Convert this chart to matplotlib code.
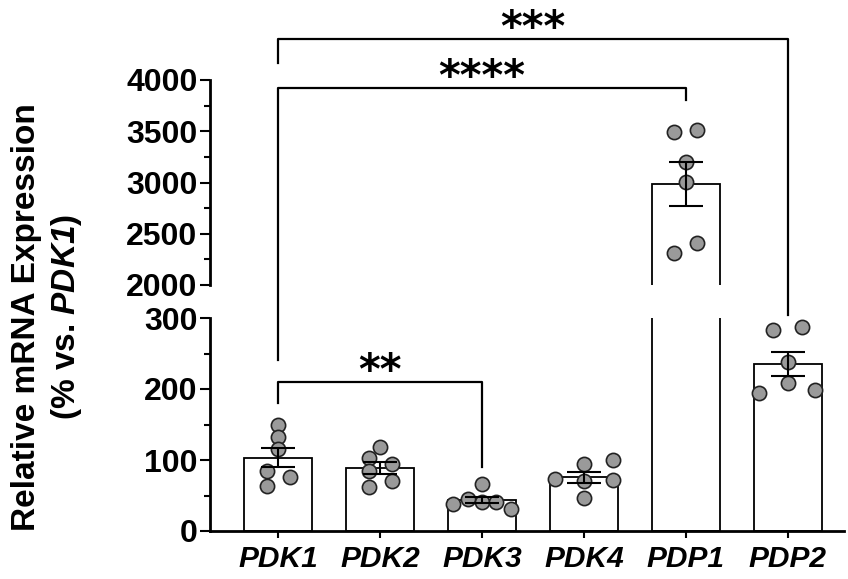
import numpy as np
import matplotlib
matplotlib.use("Agg")
import matplotlib.pyplot as plt

plt.rcParams['font.family'] = 'Liberation Sans'
plt.rcParams['font.weight'] = 'bold'
plt.rcParams['mathtext.fontset'] = 'custom'
plt.rcParams['mathtext.rm'] = 'Liberation Sans:italic:bold'
plt.rcParams['mathtext.it'] = 'Liberation Sans:italic:bold'

# genes and individual replicate values (% vs PDK1)
genes = ['PDK1', 'PDK2', 'PDK3', 'PDK4', 'PDP1', 'PDP2']
pdk1 = [149, 132, 115, 85, 76, 63]
pdk2 = [118, 103, 94, 85, 70, 62]
pdk3 = [66, 45, 41, 41, 38, 31]
pdk4 = [94, 100, 73, 70, 72, 46]
pdp1 = [3493, 3512, 3200, 3005, 2410, 2312]
pdp2 = [283, 287, 238, 208, 194, 199]
groups = [pdk1, pdk2, pdk3, pdk4, pdp1, pdp2]

# horizontal spread of the dots inside each bar
jitter = [
    [0, 0, 0, -0.11, 0.12, -0.11],
    [0, -0.11, 0.12, -0.11, 0.12, -0.11],
    [0, -0.14, 0, 0.14, -0.28, 0.28],
    [0, 0.28, -0.28, 0, 0.28, 0],
    [-0.12, 0.11, 0, 0, 0.11, -0.12],
    [-0.15, 0.14, 0, 0, -0.28, 0.27],
]

x = np.arange(len(genes))
means = np.array([np.mean(g) for g in groups])
sems = np.array([np.std(g, ddof=1) / np.sqrt(len(g)) for g in groups])

fig = plt.figure(figsize=(8.48, 5.79), dpi=100)
W, H = 848, 579
left, right = 210 / W, 844 / W
ax_top = fig.add_axes([left, 1 - 285 / H, right - left, (285 - 80) / H])
ax_bot = fig.add_axes([left, 1 - 531 / H, right - left, (531 - 318) / H])
# keep the bracket legs visible through the gap
ax_top.patch.set_visible(False)
ax_bot.patch.set_visible(False)

for ax in (ax_top, ax_bot):
    ax.bar(x, means, width=0.66, facecolor='white', edgecolor='black', linewidth=1.3, zorder=2)
    for i, g in enumerate(groups):
        ax.scatter(x[i] + np.array(jitter[i]), g, s=105, facecolor='#9a9a9a',
                   edgecolor='#222222', linewidth=1.2, zorder=3)
    ax.errorbar(x, means, yerr=sems, fmt='none', ecolor='black', elinewidth=1.5,
                capsize=12, capthick=1.5, zorder=4)
    ax.set_xlim(-0.667, 5.55)
    ax.spines['top'].set_visible(False)
    ax.spines['right'].set_visible(False)
    ax.spines['left'].set_linewidth(2)
    ax.spines['bottom'].set_linewidth(2)
    ax.tick_params(axis='y', which='major', length=7, width=1.5, labelsize=23, pad=2)
    ax.tick_params(axis='y', which='minor', length=4, width=1.5)

ax_top.set_ylim(2000, 4000)
ax_top.set_yticks(np.arange(2000, 4001, 500))
ax_top.set_yticks(np.arange(2250, 4000, 500), minor=True)
ax_top.spines['bottom'].set_visible(False)
ax_top.set_xticks([])

ax_bot.set_ylim(0, 300)
ax_bot.set_yticks([0, 100, 200, 300])
ax_bot.set_yticks([50, 150, 250], minor=True)
ax_bot.set_xticks(x)
ax_bot.set_xticklabels(genes, fontsize=21.5, fontstyle='italic', fontweight='bold')
ax_bot.tick_params(axis='x', length=5, width=1.5, pad=5)

# significance brackets
lk = dict(color='black', linewidth=1.6, clip_on=False, zorder=5)
ax_top.plot([x[0], x[0], x[5], x[5]], [4166, 4400, 4400, 1707], **lk)
ax_top.plot([x[0], x[0], x[4], x[4]], [1268, 3922, 3922, 3805], **lk)
ax_bot.plot([x[0], x[0], x[2], x[2]], [180, 210, 210, 90], **lk)
sk = dict(ha='center', va='center', fontsize=30, fontweight='bold', family='DejaVu Sans')
ax_top.text((x[0] + x[5]) / 2, 4497, '***', **sk)
ax_top.text((x[0] + x[4]) / 2, 4020, '****', **sk)
ax_bot.text((x[0] + x[2]) / 2, 224, '**', **sk)

# y label in two lines
fig.text(27 / W, 1 - 317 / H, 'Relative mRNA Expression', rotation=90,
         ha='center', va='center', fontsize=24, fontweight='bold')
fig.text(67 / W, 1 - 317 / H, r'(% vs. $\mathrm{PDK1}$)', rotation=90,
         ha='center', va='center', fontsize=24, fontweight='bold')

fig.savefig('out.png', dpi=100)
